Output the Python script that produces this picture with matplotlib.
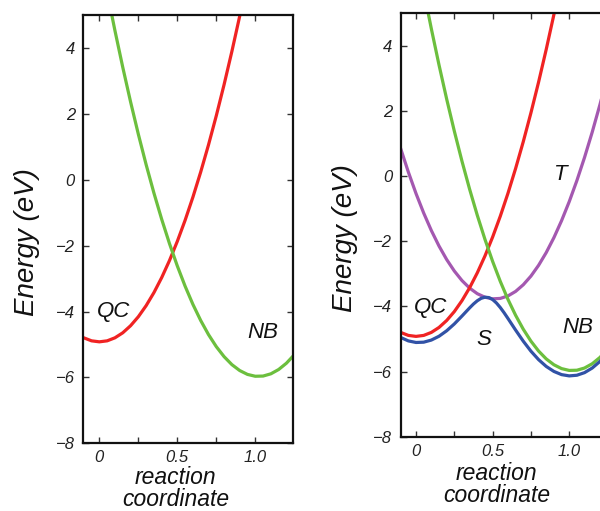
import matplotlib
matplotlib.use("Agg")
import matplotlib.pyplot as plt
from matplotlib.ticker import FixedLocator, FixedFormatter
from matplotlib.transforms import blended_transform_factory

plt.rcParams["font.family"] = ["Liberation Sans", "DejaVu Sans"]
plt.rcParams["axes.unicode_minus"] = True

# reaction coordinate grid
x = [-0.10, -0.05, 0.00, 0.05, 0.10, 0.15, 0.20, 0.25, 0.30, 0.35, 0.40,
     0.45, 0.50, 0.55, 0.60, 0.65, 0.70, 0.75, 0.80, 0.85, 0.90, 0.95,
     1.00, 1.05, 1.10, 1.15, 1.20, 1.25]

# quadricyclane (QC) diabatic surface
qc = [-4.798, -4.890, -4.920, -4.890, -4.798, -4.646, -4.432, -4.158,
      -3.822, -3.426, -2.968, -2.450, -1.870, -1.230, -0.528, 0.235,
      1.058, 1.943, 2.888, 3.895, 4.962, 6.091, 7.280, 8.531, 9.842,
      11.215, 12.648, 14.143]

# norbornadiene (NB) diabatic surface
nb = [9.585, 8.227, 6.931, 5.697, 4.525, 3.416, 2.368, 1.382, 0.458,
      -0.404, -1.203, -1.941, -2.617, -3.231, -3.783, -4.272, -4.700,
      -5.066, -5.370, -5.612, -5.791, -5.909, -5.965, -5.959, -5.891,
      -5.760, -5.568, -5.314]

# triplet (T) surface
trip = [0.844, 0.125, -0.534, -1.132, -1.669, -2.145, -2.560, -2.913,
        -3.206, -3.438, -3.609, -3.718, -3.767, -3.754, -3.678, -3.539,
        -3.335, -3.069, -2.738, -2.345, -1.888, -1.367, -0.783, -0.135,
        0.576, 1.351, 2.189, 3.091]

# singlet ground state (S), sampled more densely around the barrier
x_s = [-0.10, -0.05, 0.00, 0.05, 0.10, 0.15, 0.20, 0.25, 0.30, 0.35, 0.375,
       0.40, 0.425, 0.45, 0.475, 0.50, 0.525, 0.55, 0.575, 0.60, 0.65, 0.70,
       0.75, 0.80, 0.85, 0.90, 0.95, 1.00, 1.05, 1.10, 1.15, 1.20, 1.25]
sing = [-4.953, -5.059, -5.107, -5.098, -5.033, -4.916, -4.748, -4.538,
        -4.295, -4.044, -3.926, -3.826, -3.752, -3.717, -3.728, -3.789,
        -3.895, -4.034, -4.195, -4.369, -4.726, -5.067, -5.374, -5.634,
        -5.843, -5.996, -6.094, -6.133, -6.113, -6.033, -5.892, -5.691,
        -5.429]

x_ticks = [0, 0.25, 0.5, 0.75, 1.0]
x_ticklabels = ["0", "", "0.5", "", "1.0"]
y_ticks = [-8, -6, -4, -2, 0, 2, 4]
y_ticklabels = ["\u22128", "\u22126", "\u22124", "\u22122", "0", "2", "4"]

RED = "#f02323"
GREEN = "#6cbf3e"
PURPLE = "#a458b0"
BLUE = "#3152a6"
LW = 2.3

W, H = 600, 511
fig = plt.figure(figsize=(W / 100, H / 100), dpi=100)


def px_axes(left, top, right, bottom):
    return fig.add_axes([left / W, 1 - bottom / H, (right - left) / W,
                         (bottom - top) / H])


def style(ax, xlim, ylab_y, ylab_dx):
    ax.set_xlim(*xlim)
    ax.set_ylim(-8, 5)
    ax.xaxis.set_major_locator(FixedLocator(x_ticks))
    ax.xaxis.set_major_formatter(FixedFormatter(x_ticklabels))
    ax.yaxis.set_major_locator(FixedLocator(y_ticks))
    ax.yaxis.set_major_formatter(FixedFormatter(y_ticklabels))
    ax.tick_params(direction="in", length=4, width=1.0, top=True, right=True,
                   labelsize=12, color="#333333")
    ax.tick_params(axis="x", pad=5)
    ax.tick_params(axis="y", pad=6)
    for lab in ax.get_xticklabels() + ax.get_yticklabels():
        lab.set_fontstyle("italic")
        lab.set_color("#222222")
    for sp in ax.spines.values():
        sp.set_linewidth(1.6)
        sp.set_color("#111111")
    ax.set_ylabel("Energy (eV)", fontsize=20, fontstyle="italic",
                  color="#111111")
    ax.yaxis.set_label_coords(-ylab_dx / ax.bbox.width, ylab_y)


def xlabel(ax, xdata, top_px):
    tr = blended_transform_factory(ax.transData, fig.transFigure)
    ax.text(xdata, 1 - top_px / H, "reaction\ncoordinate", transform=tr,
            fontsize=16.5, fontstyle="italic", ha="center", va="top",
            multialignment="center", linespacing=0.97, color="#111111",
            clip_on=False)


def label(ax, xd, yd, s):
    ax.text(xd, yd, s, fontsize=16, fontstyle="italic", ha="center",
            va="center", color="#111111")


# left panel: diabatic crossing
ax1 = px_axes(83.3, 15, 293, 443.3)
ax1.plot(x, qc, color=RED, lw=LW, solid_capstyle="round")
ax1.plot(x, nb, color=GREEN, lw=LW, solid_capstyle="round")
style(ax1, (-0.103, 1.242), 0.47, 43)
label(ax1, 0.094, -4.0, "QC")
label(ax1, 1.046, -4.65, "NB")
xlabel(ax1, 0.49, 466)

# right panel: with triplet and adiabatic singlet
ax2 = px_axes(400.7, 13.3, 606.0, 436.7)
ax2.plot(x, trip, color=PURPLE, lw=LW)
ax2.plot(x, qc, color=RED, lw=LW)
ax2.plot(x, nb, color=GREEN, lw=LW)
ax2.plot(x_s, sing, color=BLUE, lw=LW)
style(ax2, (-0.1, 1.24), 0.469, 43)
label(ax2, 0.097, -4.02, "QC")
label(ax2, 0.444, -5.02, "S")
label(ax2, 0.946, 0.06, "T")
label(ax2, 1.053, -4.66, "NB")
xlabel(ax2, 0.526, 462)

fig.savefig("out.png", dpi=100)
